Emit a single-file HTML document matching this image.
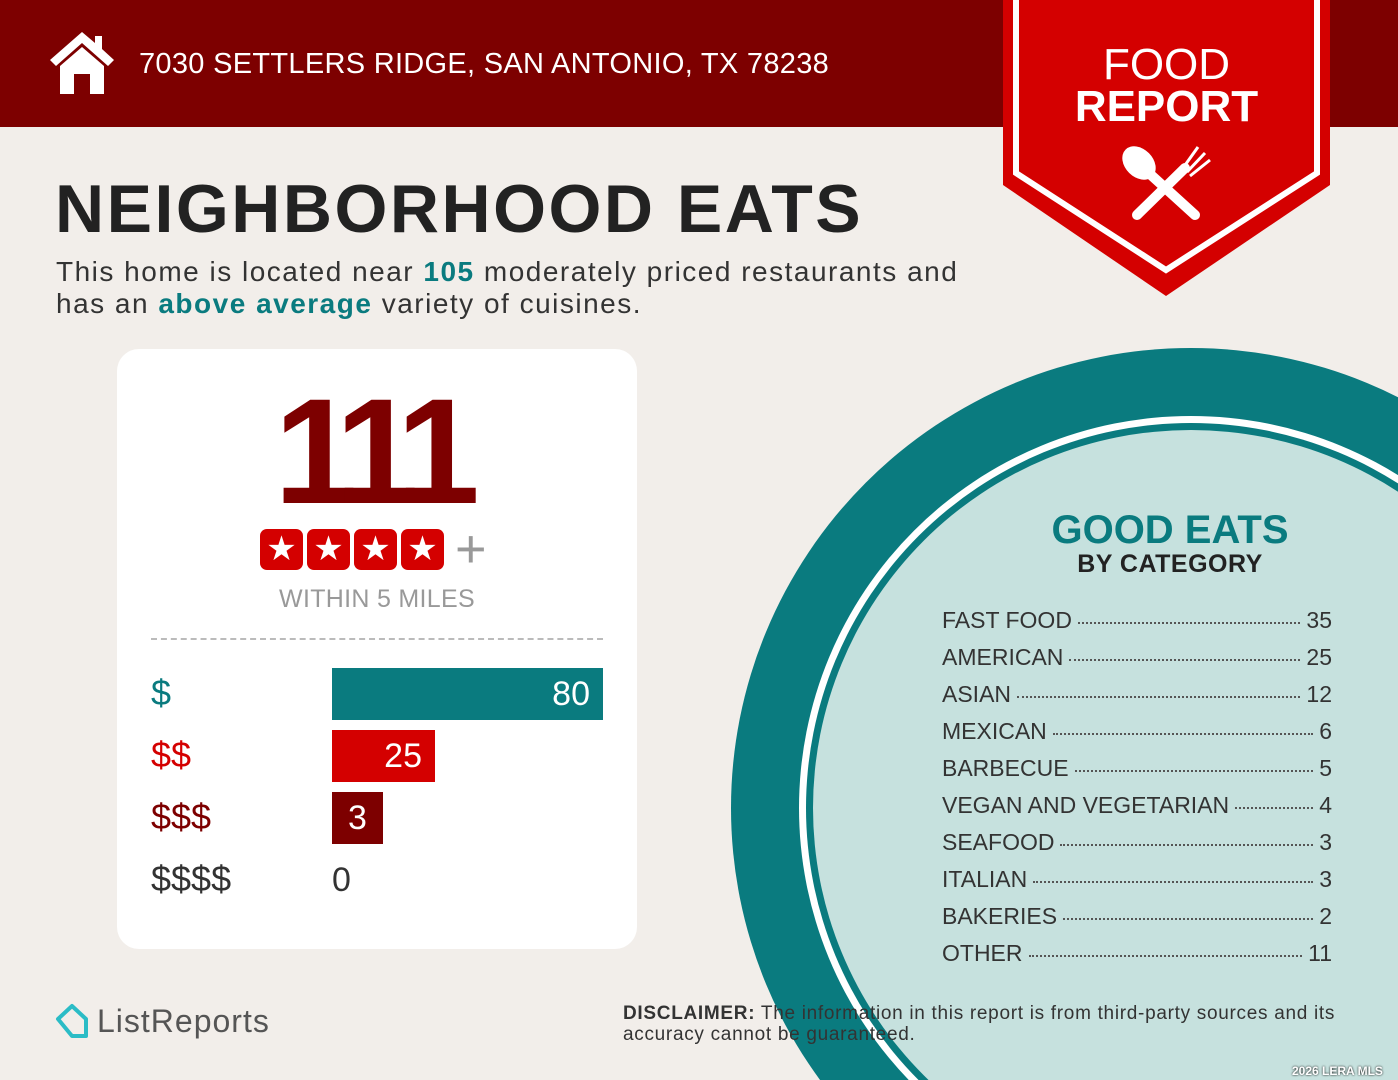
<!DOCTYPE html>
<html style="overflow:hidden"><head><meta charset="utf-8"><style>
html,body{margin:0;width:1398px;height:1080px;overflow:hidden}
body{background:#f2eeea;font-family:"Liberation Sans",sans-serif;position:relative}
.abs{position:absolute}
.row{position:absolute;left:942px;width:390px;font-size:23px;color:#333;display:flex;align-items:baseline}
.row .d{flex:1;border-bottom:2px dotted #555;margin:0 6px;transform:translateY(-4px)}
</style></head><body>
<div class="abs" style="left:0;top:0;width:1398px;height:127px;background:#7d0000"></div>
<svg class="abs" style="left:48px;top:30px" width="68" height="66" viewBox="0 0 68 66"><path d="M34 2 L2 30 L8 36 L34 13 L60 36 L66 30 L54 19 L54 6 L47 6 L47 13 Z" fill="#fff"/><path d="M12 36 L34 17 L56 36 L56 64 L42 64 L42 44 L26 44 L26 64 L12 64 Z" fill="#fff"/></svg>
<div class="abs" style="left:139px;top:48px;font-size:29px;color:#fff;letter-spacing:0.3px">7030 SETTLERS RIDGE, SAN ANTONIO, TX 78238</div>
<svg class="abs" style="left:0;top:0" width="1398" height="1080">
<circle cx="1191" cy="808" r="460" fill="#0a7b7f"/>
<circle cx="1191" cy="808" r="392" fill="#fff"/>
<circle cx="1191" cy="808" r="385" fill="#0a7b7f"/>
<circle cx="1191" cy="808" r="378" fill="#c6e1de"/>
<polygon points="1003,0 1330,0 1330,185 1166,296 1003,185" fill="#d40000"/>
<polyline points="1016,0 1016,173 1166,270 1317,173 1317,0" fill="none" stroke="#fff" stroke-width="6"/>
<g stroke="#fff" stroke-width="10" stroke-linecap="round"><line x1="1140" y1="165" x2="1195" y2="215"/><line x1="1137" y1="215" x2="1185" y2="168"/></g>
<ellipse cx="1139" cy="163" rx="14" ry="19" transform="rotate(-45 1139 163)" fill="#fff"/>
<g stroke="#fff" stroke-width="3"><line x1="1183" y1="168" x2="1198" y2="147"/><line x1="1187" y1="172" x2="1205" y2="153"/><line x1="1190" y1="176" x2="1210" y2="160"/></g>
</svg>
<div class="abs" style="left:1003px;top:44px;width:327px;text-align:center;color:#fff;font-size:44px;line-height:42px">FOOD<br><b>REPORT</b></div>
<div class="abs" style="left:55px;top:170px;font-size:68px;font-weight:bold;color:#222;letter-spacing:2.5px">NEIGHBORHOOD EATS</div>
<div class="abs" style="left:56px;top:256px;font-size:28px;line-height:32px;color:#333;letter-spacing:1.5px">This home is located near <b style="color:#0a7b7f">105</b> moderately priced restaurants and<br>has an <b style="color:#0a7b7f">above average</b> variety of cuisines.</div>
<div class="abs" style="left:117px;top:349px;width:520px;height:600px;background:#fff;border-radius:22px"></div>
<div class="abs" style="left:110px;top:365px;width:520px;text-align:center;font-size:150px;font-weight:bold;color:#7d0000;letter-spacing:-14px">111</div>
<div class="abs" style="left:260px;top:529px;display:flex;gap:4px">
<div style="width:43px;height:41px;background:#d40000;border-radius:7px;color:#fff;font-size:34px;text-align:center;line-height:41px">★</div>
<div style="width:43px;height:41px;background:#d40000;border-radius:7px;color:#fff;font-size:34px;text-align:center;line-height:41px">★</div>
<div style="width:43px;height:41px;background:#d40000;border-radius:7px;color:#fff;font-size:34px;text-align:center;line-height:41px">★</div>
<div style="width:43px;height:41px;background:#d40000;border-radius:7px;color:#fff;font-size:34px;text-align:center;line-height:41px">★</div>
</div>
<div class="abs" style="left:455px;top:518px;font-size:54px;color:#999">+</div>
<div class="abs" style="left:117px;top:585px;width:520px;text-align:center;font-size:25px;color:#999;letter-spacing:0.3px">WITHIN 5 MILES</div>
<div class="abs" style="left:151px;top:638px;width:452px;border-top:2px dashed #bbb"></div>
<div class="abs" style="left:151px;top:672px;font-size:36px;color:#0a7b7f">$</div>
<div class="abs" style="left:151px;top:734px;font-size:36px;color:#d40000">$$</div>
<div class="abs" style="left:151px;top:796px;font-size:36px;color:#7d0000">$$$</div>
<div class="abs" style="left:151px;top:858px;font-size:36px;color:#333">$$$$</div>
<div class="abs" style="left:332px;top:668px;width:271px;height:52px;background:#0a7b7f;color:#fff;font-size:34px;text-align:right;line-height:52px;box-sizing:border-box;padding-right:13px">80</div>
<div class="abs" style="left:332px;top:730px;width:103px;height:52px;background:#d40000;color:#fff;font-size:34px;text-align:right;line-height:52px;box-sizing:border-box;padding-right:13px">25</div>
<div class="abs" style="left:332px;top:792px;width:51px;height:52px;background:#7d0000;color:#fff;font-size:34px;text-align:center;line-height:52px">3</div>
<div class="abs" style="left:332px;top:854px;font-size:34px;color:#333;line-height:52px">0</div>
<div class="abs" style="left:1000px;top:508px;width:340px;text-align:center;font-size:40px;font-weight:bold;color:#0a7b7f">GOOD EATS</div>
<div class="abs" style="left:1000px;top:550px;width:340px;text-align:center;font-size:25px;font-weight:bold;color:#222;letter-spacing:0.5px">BY CATEGORY</div>
<div class="row" style="top:607px"><span>FAST FOOD</span><span class="d"></span><span>35</span></div>
<div class="row" style="top:644px"><span>AMERICAN</span><span class="d"></span><span>25</span></div>
<div class="row" style="top:681px"><span>ASIAN</span><span class="d"></span><span>12</span></div>
<div class="row" style="top:718px"><span>MEXICAN</span><span class="d"></span><span>6</span></div>
<div class="row" style="top:755px"><span>BARBECUE</span><span class="d"></span><span>5</span></div>
<div class="row" style="top:792px"><span>VEGAN AND VEGETARIAN</span><span class="d"></span><span>4</span></div>
<div class="row" style="top:829px"><span>SEAFOOD</span><span class="d"></span><span>3</span></div>
<div class="row" style="top:866px"><span>ITALIAN</span><span class="d"></span><span>3</span></div>
<div class="row" style="top:903px"><span>BAKERIES</span><span class="d"></span><span>2</span></div>
<div class="row" style="top:940px"><span>OTHER</span><span class="d"></span><span>11</span></div>
<svg class="abs" style="left:54px;top:1003px" width="36" height="36"><path d="M4 16 L18 3 L32 16 L32 33 L18 33 Z" fill="none" stroke="#2bbcc6" stroke-width="4" stroke-linejoin="round"/></svg>
<div class="abs" style="left:97px;top:1003px;font-size:32px;color:#555;letter-spacing:1px">ListReports</div>
<div class="abs" style="left:623px;top:1003px;font-size:19px;line-height:21px;color:#333;letter-spacing:0.7px"><b>DISCLAIMER:</b> The information in this report is from third-party sources and its<br>accuracy cannot be guaranteed.</div>
<div class="abs" style="left:1292px;top:1064px;font-size:12px;font-weight:bold;color:#fff;text-shadow:0 0 2px #000">2026 LERA MLS</div>
</body></html>
